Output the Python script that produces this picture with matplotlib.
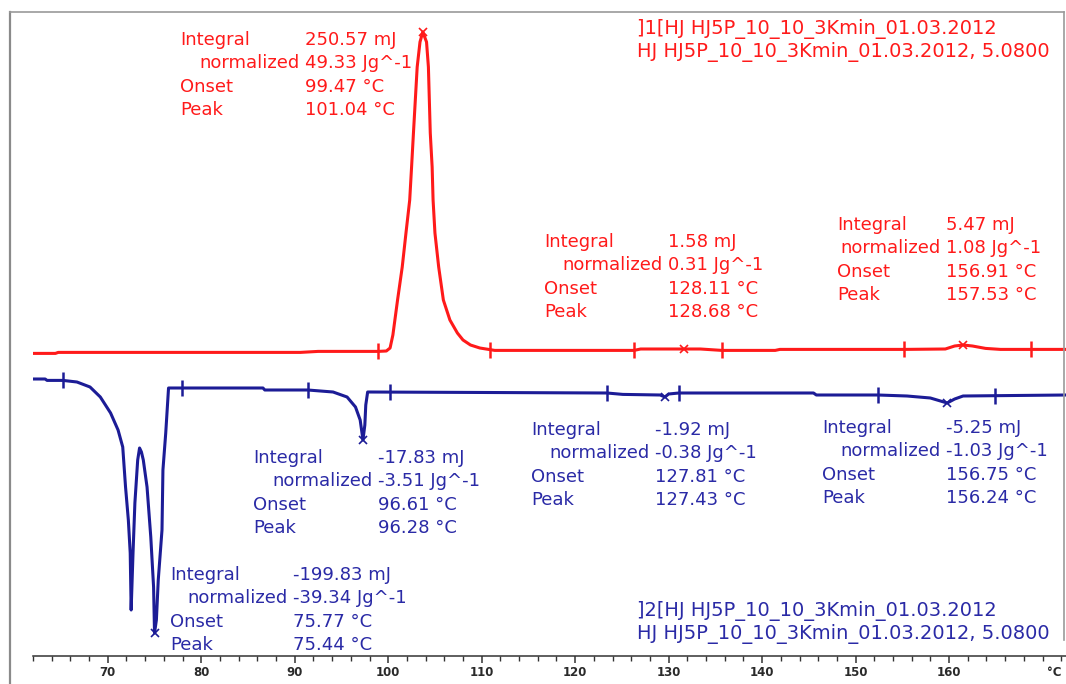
import numpy as np
import matplotlib
matplotlib.use("Agg")
from matplotlib import pyplot as plt
from matplotlib.lines import Line2D

# DSC curves, temperature in degC, heat flow in mW (offset, arbitrary)
red_T = [62.0, 64.4, 64.7, 90.6, 92.5, 98.9, 99.8, 100.2, 100.5, 101.0,
         101.5, 101.9, 102.3, 102.5, 102.7, 102.9, 103.1, 103.4, 103.7, 104.1,
         104.3, 104.4, 104.5, 104.7, 104.8, 105.0, 105.4, 105.9, 106.6, 107.4,
         108.0, 108.8, 109.8, 111.4, 126.3, 127.0, 133.4, 135.7, 141.4, 141.9,
         155.2, 159.6, 160.6, 161.5, 162.5, 163.9, 165.5, 172.5]
red_hf = [15.13, 15.13, 15.18, 15.18, 15.23, 15.23, 15.25, 15.40, 16.05, 17.80,
          19.45, 21.15, 22.80, 24.45, 26.15, 27.80, 29.45, 30.70, 31.20, 30.70,
          29.45, 27.80, 26.15, 24.45, 22.80, 21.15, 19.45, 17.80, 16.80, 16.15,
          15.80, 15.55, 15.40, 15.28, 15.28, 15.35, 15.35, 15.28, 15.28, 15.33,
          15.33, 15.35, 15.50, 15.55, 15.50, 15.38, 15.33, 15.33]

blue_T = [62.0, 63.3, 63.5, 65.2, 66.7, 68.1, 69.2, 70.3, 71.1, 71.6,
          71.9, 72.2, 72.4, 72.5, 72.7, 72.9, 73.2, 73.4, 73.6, 73.8,
          74.2, 74.6, 74.9, 75.0, 75.2, 75.4, 75.8, 75.9, 76.2, 76.5,
          86.6, 86.8, 91.4, 94.1, 95.6, 96.5, 97.0, 97.3, 97.5, 97.6,
          97.8, 123.4, 125.1, 129.1, 129.6, 130.0, 131.1, 145.5, 145.8, 152.4,
          155.5, 158.0, 159.8, 160.6, 161.5, 172.5]
blue_hf = [13.85, 13.85, 13.78, 13.78, 13.70, 13.45, 12.95, 12.15, 11.30, 10.45,
           8.45, 6.80, 5.15, 2.30, 5.15, 7.65, 9.80, 10.40, 10.20, 9.80,
           8.45, 5.95, 3.45, 1.15, 1.80, 3.80, 6.30, 9.30, 11.15, 13.40,
           13.40, 13.30, 13.30, 13.20, 12.95, 12.45, 11.80, 10.80, 11.55, 12.55,
           13.20, 13.15, 13.08, 13.05, 12.95, 13.10, 13.15, 13.15, 13.05, 13.05,
           13.00, 12.90, 12.65, 12.85, 13.00, 13.05]

# integration limits and peak positions
red_limits = [98.9, 110.9, 126.3, 135.7, 155.2, 168.8]
blue_limits = [65.2, 77.9, 91.4, 100.2, 123.4, 131.1, 152.4, 164.9]
red_peaks = [103.7, 131.6, 161.5]
blue_peaks = [75.0, 97.3, 129.6, 159.8]

ticks = [70, 80, 90, 100, 110, 120, 130, 140, 150, 160]

row_names = ["Integral", "normalized", "Onset", "Peak"]
red_results = [
    ["250.57 mJ", "49.33 Jg^-1", "99.47 °C", "101.04 °C"],
    ["1.58 mJ", "0.31 Jg^-1", "128.11 °C", "128.68 °C"],
    ["5.47 mJ", "1.08 Jg^-1", "156.91 °C", "157.53 °C"],
]
blue_results = [
    ["-17.83 mJ", "-3.51 Jg^-1", "96.61 °C", "96.28 °C"],
    ["-1.92 mJ", "-0.38 Jg^-1", "127.81 °C", "127.43 °C"],
    ["-5.25 mJ", "-1.03 Jg^-1", "156.75 °C", "156.24 °C"],
    ["-199.83 mJ", "-39.34 Jg^-1", "75.77 °C", "75.44 °C"],
]
red_title = ["]1[HJ HJ5P_10_10_3Kmin_01.03.2012", "HJ HJ5P_10_10_3Kmin_01.03.2012, 5.0800"]
blue_title = ["]2[HJ HJ5P_10_10_3Kmin_01.03.2012", "HJ HJ5P_10_10_3Kmin_01.03.2012, 5.0800"]

RED = "#ff1a1a"
BLUE = "#1c1c96"
BLUE_TXT = "#2a2aa6"
W, H = 1066, 684

fig = plt.figure(figsize=(W / 100, H / 100), dpi=100)
ax = fig.add_axes([33 / W, 28 / H, 1033 / W, 656 / H])
ax.set_xlim(62.03, 172.51)
ax.set_ylim(0, 32.8)

ax.plot(red_T, red_hf, color=RED, lw=2.2, solid_joinstyle="round")
ax.plot(blue_T, blue_hf, color=BLUE, lw=2.2, solid_joinstyle="round")

ax.plot(red_limits, np.interp(red_limits, red_T, red_hf), ls="none",
        marker="|", ms=11, mew=1.8, color=RED)
ax.plot(blue_limits, np.interp(blue_limits, blue_T, blue_hf), ls="none",
        marker="|", ms=11, mew=1.8, color=BLUE)
ax.plot(red_peaks, np.interp(red_peaks, red_T, red_hf), ls="none",
        marker="x", ms=6, mew=1.2, color=RED)
ax.plot(blue_peaks, np.interp(blue_peaks, blue_T, blue_hf), ls="none",
        marker="x", ms=6, mew=1.2, color=BLUE)

for s in ["left", "right", "top"]:
    ax.spines[s].set_visible(False)
ax.spines["bottom"].set_color("#333333")
ax.spines["bottom"].set_linewidth(1.1)
ax.set_yticks([])
ax.set_xticks(ticks)
ax.set_xticklabels([str(t) for t in ticks])
ax.set_xticks(np.arange(62, 173, 2), minor=True)
ax.tick_params(axis="x", which="major", length=5, width=1.1, color="#333333",
               labelsize=8.5, labelcolor="#2a2a2a", pad=2.5)
ax.tick_params(axis="x", which="minor", length=3.5, width=1.0, color="#333333")
for lab in ax.get_xticklabels():
    lab.set_fontweight("bold")
ax.annotate("°C", xy=(171.3, 0), xycoords=("data", "axes fraction"),
            xytext=(0, -7.5), textcoords="offset points", ha="center", va="top",
            fontsize=8.5, fontweight="bold", color="#2a2a2a")

# frame of the plot window
fig.add_artist(Line2D([10 / W, 10 / W], [0, 1 - 12 / H], color="#8a8a8a", lw=1.6))
fig.add_artist(Line2D([10 / W, 1064 / W], [1 - 12 / H, 1 - 12 / H], color="#9a9a9a", lw=1.2))
fig.add_artist(Line2D([1064 / W, 1064 / W], [1 - 12 / H, 1 - 640 / H], color="#9a9a9a", lw=1.2))

FS = 13.0


def put(px, py, s, color, ha="left", size=FS):
    fig.text(px / W, 1 - py / H, s, color=color, fontsize=size, ha=ha, va="center",
             family="DejaVu Sans")


def block(lx, vx, y0, vals, color):
    for i, (name, v) in enumerate(zip(row_names, vals)):
        y = y0 + i * 23.3
        if name == "normalized":
            put(vx - 5, y, name, color, ha="right")
        else:
            put(lx, y, name, color)
        put(vx, y, v, color)


block(180, 305, 40, red_results[0], RED)
block(544, 668, 242, red_results[1], RED)
block(837, 946, 225, red_results[2], RED)
block(253, 378, 458, blue_results[0], BLUE_TXT)
block(531, 655, 430, blue_results[1], BLUE_TXT)
block(822, 946, 428, blue_results[2], BLUE_TXT)
block(170, 293, 575, blue_results[3], BLUE_TXT)

put(637, 29, red_title[0], RED, size=14.0)
put(637, 52, red_title[1], RED, size=14.0)
put(637, 611, blue_title[0], BLUE_TXT, size=14.0)
put(637, 634, blue_title[1], BLUE_TXT, size=14.0)

fig.savefig("out.png", dpi=100, facecolor="white")
